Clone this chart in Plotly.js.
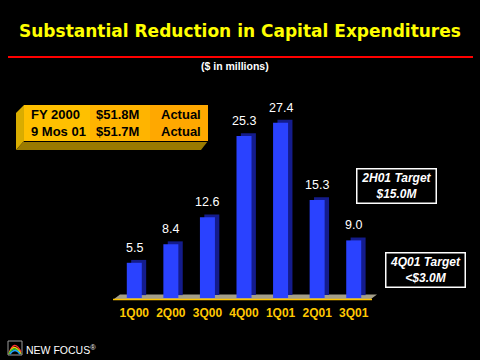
<!DOCTYPE html>
<html>
<head>
<meta charset="utf-8">
<script src="https://cdn.plot.ly/plotly-3.0.1.min.js"></script>
<style>html,body{margin:0;padding:0;background:#000;}#chart{width:480px;height:360px;}</style>
</head>
<body>
<div id="chart"></div>
<script>
// ---- data ----
var quarters = ['1Q00','2Q00','3Q00','4Q00','1Q01','2Q01','3Q01'];
var capex = [5.5, 8.4, 12.6, 25.3, 27.4, 15.3, 9.0];
var summaryLabels = ['FY 2000', '9 Mos 01'];
var summaryAmounts = ['$51.8M', '$51.7M'];
var summaryStatus = ['Actual', 'Actual'];
var targetNotes = ['2H01 Target<br>$15.0M', '4Q01 Target<br>&lt;$3.0M'];

// ---- layout helpers (pixel -> paper) ----
var W = 480, H = 360, ML = 116, MR = 108, MT = 106, MB = 62;
var PW = W - ML - MR, PH = H - MT - MB;
function px(X){ return (X - ML) / PW; }
function py(Y){ return (H - MB - Y) / PH; }
function P(X, Y){ return px(X).toFixed(4) + ',' + py(Y).toFixed(4); }

var ARIAL = 'Arial, "Liberation Sans", sans-serif';

var side = {
  type: 'bar', x: quarters, y: capex, base: 0.45,
  offset: -0.205 + 0.12, width: 0.41,
  marker: {color: '#141c8c', line: {width: 0}},
  hoverinfo: 'skip', showlegend: false
};
var front = {
  type: 'bar', x: quarters, y: capex,
  offset: -0.205, width: 0.41,
  marker: {color: '#2a42ff', line: {width: 0}},
  showlegend: false
};

function note(X, Y, text, font, extra){
  var a = {xref:'paper', yref:'paper', x: px(X), y: py(Y), xanchor:'center', yanchor:'middle',
    text: text, showarrow:false, font: font};
  if (extra) for (var k in extra) a[k] = extra[k];
  return a;
}

var annotations = [];
quarters.forEach(function(q, i){
  annotations.push({x: q, y: capex[i], xref: 'x', yref: 'y', text: capex[i].toFixed(1),
    xanchor:'center', yanchor:'middle',
    showarrow: false, yshift: 15, font: {family: ARIAL, size: 12.5, color: '#ffffff'}});
});
// title + subtitle
annotations.push(note(240, 31, '<b>Substantial Reduction in Capital Expenditures</b>',
  {family:'"DejaVu Sans", Verdana, sans-serif', size:17, color:'#ffff00'}));
annotations.push(note(235, 66, '<b>($ in millions)</b>', {family:ARIAL, size:10.5, color:'#ffffff'}));
// summary box text
var rowsY = [114, 131];
var boxFont = {family:ARIAL, size:13, color:'#000'};
summaryLabels.forEach(function(t, i){
  annotations.push(note(29, rowsY[i], '<b>'+t+'</b>', boxFont, {xanchor:'left'}));
  annotations.push(note(94, rowsY[i], '<b>'+summaryAmounts[i]+'</b>', boxFont, {xanchor:'left'}));
  annotations.push(note(203, rowsY[i], '<b>'+summaryStatus[i]+'</b>', boxFont, {xanchor:'right'}));
});
// target notes
var noteCenters = [[396.5, 186], [425, 269.5]];
targetNotes.forEach(function(t, i){
  annotations.push(note(noteCenters[i][0], noteCenters[i][1], '<b><i>'+t+'</i></b>',
    {family:ARIAL, size:12, color:'#fff'},
    {bgcolor:'#000', bordercolor:'#fff', borderwidth:1.5, borderpad:2, width:74, height:29}));
});
// logo text
annotations.push(note(24, 349, 'NEW FOCUS<sup>®</sup>', {family:ARIAL, size:10.5, color:'#fff'}, {xanchor:'left'}));

var shapes = [
  // red rule
  {type:'line', xref:'paper', yref:'paper', x0:px(8), x1:px(473), y0:py(57), y1:py(57), line:{color:'#ff0000', width:2}},
  // summary box: left face, bottom face, front face
  {type:'path', xref:'paper', yref:'paper', path:'M'+P(24,105)+'L'+P(24,141)+'L'+P(16,150)+'L'+P(16,113)+'Z',
    fillcolor:'#d9ad00', line:{width:0}},
  {type:'path', xref:'paper', yref:'paper', path:'M'+P(24,141)+'L'+P(208,141)+'L'+P(201,150)+'L'+P(16,150)+'Z',
    fillcolor:'#9a7a00', line:{width:0}},
  {type:'rect', xref:'paper', yref:'paper', x0:px(24), x1:px(208), y0:py(141), y1:py(105),
    fillcolor:'#ffa800', line:{width:0}},
  {type:'rect', xref:'paper', yref:'paper', x0:px(24), x1:px(150), y0:py(141), y1:py(105),
    fillcolor:'#ffc000', opacity:0.5, line:{width:0}},
  {type:'rect', xref:'paper', yref:'paper', x0:px(24), x1:px(90), y0:py(141), y1:py(105),
    fillcolor:'#ffc800', opacity:0.6, line:{width:0}},
  {type:'line', xref:'paper', yref:'paper', x0:px(24), x1:px(208), y0:py(141.5), y1:py(141.5), line:{color:'#000', width:1}},
  // floor
  {type:'path', xref:'paper', yref:'paper', layer:'below', path:'M'+P(114,299)+'L'+P(371,299)+'L'+P(377,294.5)+'L'+P(120,294.5)+'Z',
    fillcolor:'#a49f8a', line:{width:0}},
  {type:'line', xref:'paper', yref:'paper', x0:px(113), x1:px(372), y0:py(299.5), y1:py(299.5), line:{color:'#ffc400', width:1.5}},
  // logo
  {type:'rect', xref:'paper', yref:'paper', x0:px(8), x1:px(22), y0:py(355), y1:py(341), fillcolor:'rgba(0,0,0,0)', line:{color:'#9a9a9a', width:1}},
  {type:'path', xref:'paper', yref:'paper', path:'M'+P(9,354)+'Q'+P(14,338)+' '+P(21,352), line:{color:'#ff3030', width:1.3}},
  {type:'path', xref:'paper', yref:'paper', path:'M'+P(9,354)+'Q'+P(14,341)+' '+P(21,354), line:{color:'#ffd000', width:1.3}},
  {type:'path', xref:'paper', yref:'paper', path:'M'+P(9,354)+'Q'+P(14,344)+' '+P(20,354), line:{color:'#30c030', width:1.3}},
  {type:'path', xref:'paper', yref:'paper', path:'M'+P(10,354)+'Q'+P(15,347)+' '+P(20,354), line:{color:'#20a0ff', width:1.3}}
];

var layout = {
  width: W, height: H,
  margin: {l: ML, r: MR, t: MT, b: MB, pad: 0},
  paper_bgcolor: '#000', plot_bgcolor: '#000',
  barmode: 'overlay',
  showlegend: false,
  xaxis: {type:'category', showgrid:false, zeroline:false, showline:false, ticks:'', ticklabelstandoff: 6,
    tickfont:{family:ARIAL, size:12, color:'#ffc800', weight:'bold'}, fixedrange:true},
  yaxis: {range:[0, 30], visible:false, showgrid:false, zeroline:false, fixedrange:true},
  annotations: annotations,
  shapes: shapes
};

Plotly.newPlot('chart', [side, front], layout, {displayModeBar:false, staticPlot:true});
</script>
</body>
</html>
